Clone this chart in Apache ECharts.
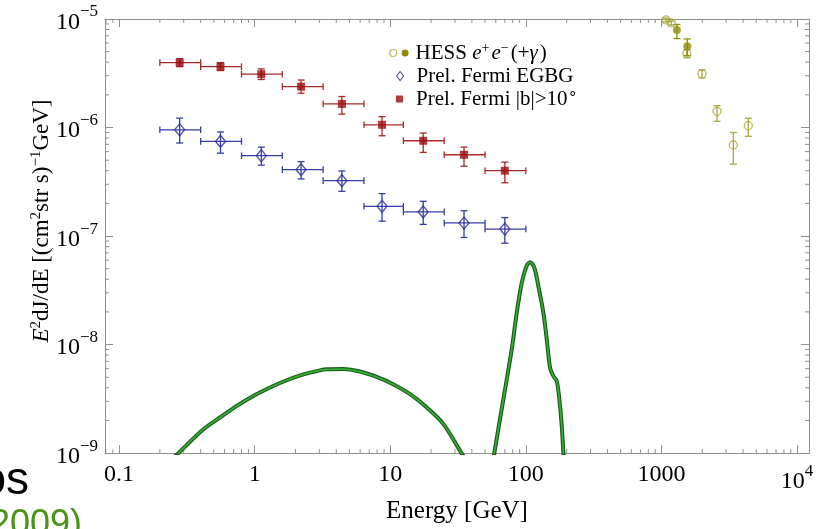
<!DOCTYPE html>
<html>
<head>
<meta charset="utf-8">
<script src="https://cdn.jsdelivr.net/npm/echarts@6/dist/echarts.min.js"></script>
<style>
  html, body { margin: 0; padding: 0; background: #fff; }
  #chart { width: 825px; height: 529px; }
</style>
</head>
<body>
<div id="chart"></div>
<script>
// ---- Fermi-LAT binned spectra (energy in GeV, E^2 dJ/dE) ----
const fermiE      = [0.28, 0.56, 1.12, 2.2, 4.4, 8.7, 17.5, 35, 70];
const fermiBinLo  = [0.2, 0.4, 0.8, 1.6, 3.2, 6.4, 12.5, 25, 50];
const fermiBinHi  = [0.4, 0.8, 1.6, 3.2, 6.4, 12.5, 25, 50, 100];

// |b| > 10 deg
const fermiHiLatF    = [3.96e-6, 3.64e-6, 3.10e-6, 2.38e-6, 1.65e-6, 1.06e-6, 7.55e-7, 5.61e-7, 4.00e-7];
const fermiHiLatLow  = [3.64e-6, 3.35e-6, 2.77e-6, 2.07e-6, 1.33e-6, 8.4e-7, 5.9e-7, 4.4e-7, 3.1e-7];
const fermiHiLatHigh = [4.31e-6, 3.96e-6, 3.47e-6, 2.74e-6, 1.93e-6, 1.26e-6, 8.9e-7, 6.6e-7, 4.8e-7];

// extragalactic background
const egbgF    = [9.53e-7, 7.45e-7, 5.50e-7, 4.09e-7, 3.24e-7, 1.88e-7, 1.67e-7, 1.32e-7, 1.16e-7];
const egbgLow  = [7.2e-7, 5.8e-7, 4.5e-7, 3.36e-7, 2.58e-7, 1.37e-7, 1.28e-7, 9.7e-8, 8.6e-8];
const egbgHigh = [1.22e-6, 9.1e-7, 6.6e-7, 4.85e-7, 3.98e-7, 2.46e-7, 2.09e-7, 1.71e-7, 1.48e-7];

// ---- HESS electron (+gamma) spectrum ----
const hessOpenE    = [1080, 1180, 1540, 1990, 2570, 3390, 4370];
const hessOpenF    = [9.8e-6, 9.2e-6, 4.8e-6, 3.12e-6, 1.41e-6, 6.9e-7, 1.04e-6];
const hessOpenLow  = [9.4e-6, 8.8e-6, 4.4e-6, 2.87e-6, 1.14e-6, 4.6e-7, 8.3e-7];
const hessOpenHigh = [1.02e-5, 9.6e-6, 5.2e-6, 3.4e-6, 1.59e-6, 9.0e-7, 1.22e-6];

const hessFullE    = [1300, 1550];
const hessFullF    = [7.9e-6, 5.6e-6];
const hessFullLow  = [6.6e-6, 4.6e-6];
const hessFullHigh = [8.9e-6, 6.55e-6];

// ---- model curve (two components) ----
const humpE = [0.24, 0.274, 0.419, 0.556, 0.738, 0.978, 1.30, 1.72, 2.29, 3.03, 3.40, 4.51, 5.98, 7.94, 10.5, 14.0, 18.6, 24.7, 33.7, 36];
const humpF = [8.5e-10, 1.0e-9, 1.66e-9, 2.13e-9, 2.72e-9, 3.36e-9, 4.02e-9, 4.69e-9, 5.32e-9, 5.79e-9, 5.92e-9, 5.95e-9, 5.64e-9, 5.03e-9, 4.31e-9, 3.49e-9, 2.63e-9, 1.85e-9, 9.9e-10, 8.7e-10];
const peakE = [56, 58.6, 68.3, 78.7, 85.7, 93.3, 101.6, 107.5, 115.6, 123.7, 134.6, 142.6, 150.8, 159.5, 169.0, 176.6, 184.0, 189.1, 192];
const peakF = [7e-10, 1.01e-9, 3.14e-9, 9.04e-9, 1.97e-8, 3.71e-8, 5.35e-8, 5.74e-8, 5.10e-8, 3.45e-8, 1.97e-8, 1.12e-8, 6.14e-9, 5.14e-9, 4.62e-9, 3.14e-9, 1.78e-9, 1.01e-9, 7.5e-10];

// ---- axis ranges and tick labels ----
const xMin = 0.0788, xMax = 12250;
const yMin = 1e-9,   yMax = 1e-5;
const xTickLabels = { '-1': '0.1', '0': '1', '1': '10', '2': '100', '3': '1000', '4': '{b|10}{s|4}' };
const yTickLabels = { '-9': '{b|10}{s|−9}', '-8': '{b|10}{s|−8}', '-7': '{b|10}{s|−7}', '-6': '{b|10}{s|−6}', '-5': '{b|10}{s|−5}' };

const SERIF = '"Liberation Serif", "Times New Roman", serif';
const FRAME = '#8e8e8e';
const RED = '#9c0b0b', RED_BAR = '#a82a2a';
const BLUE = '#2c3294', BLUE_BAR = '#353da3';
const HESS_OPEN = '#aaa836', HESS_FULL = '#8e8c08';

function zipPoints(e, f, lo, hi, binLo, binHi) {
  return e.map((x, i) => [x, f[i], binLo ? binLo[i] : x, binHi ? binHi[i] : x, lo[i], hi[i]]);
}

function errorBars(color, capX, capY) {
  return function (params, api) {
    const x = api.value(0), y = api.value(1);
    const c = api.coord([x, y]);
    const kids = [];
    const seg = (x1, y1, x2, y2) => kids.push({
      type: 'line', shape: { x1, y1, x2, y2 },
      style: { stroke: color, lineWidth: 1.3 }
    });
    const xl = api.value(2), xh = api.value(3);
    if (xl !== xh) {
      const l = api.coord([xl, y]), r = api.coord([xh, y]);
      seg(l[0], c[1], r[0], c[1]);
      seg(l[0], c[1] - capY, l[0], c[1] + capY);
      seg(r[0], c[1] - capY, r[0], c[1] + capY);
    }
    const t = api.coord([x, api.value(5)]), b = api.coord([x, api.value(4)]);
    seg(c[0], t[1], c[0], b[1]);
    seg(c[0] - capX, t[1], c[0] + capX, t[1]);
    seg(c[0] - capX, b[1], c[0] + capX, b[1]);
    return { type: 'group', children: kids };
  };
}

// minor ticks at 2..9 x 10^k on all four sides of the frame
function minorTicks(params, api) {
  const kids = [];
  const seg = (x1, y1, x2, y2) => kids.push({
    type: 'line', shape: { x1, y1, x2, y2 }, style: { stroke: FRAME, lineWidth: 1 }
  });
  const len = 4;
  for (let k = -2; k <= 4; k++) {
    for (let m = 2; m <= 9; m++) {
      const v = m * Math.pow(10, k);
      if (v <= xMin || v >= xMax) continue;
      const b = api.coord([v, yMin]), t = api.coord([v, yMax]);
      seg(b[0], b[1], b[0], b[1] - len);
      seg(t[0], t[1], t[0], t[1] + len);
    }
  }
  for (let k = -9; k <= -6; k++) {
    for (let m = 2; m <= 9; m++) {
      const v = m * Math.pow(10, k);
      const l = api.coord([xMin, v]), r = api.coord([xMax, v]);
      seg(l[0], l[1], l[0] + len, l[1]);
      seg(r[0], r[1], r[0] - len, r[1]);
    }
  }
  return { type: 'group', children: kids };
}

function exponentOf(v) {
  const e = Math.log10(v);
  return Math.abs(e - Math.round(e)) < 1e-6 ? String(Math.round(e)) : null;
}

const baseAxis = {
  type: 'log', logBase: 10,
  axisLine: { show: true, onZero: false, lineStyle: { color: FRAME, width: 1 } },
  axisTick: { show: true, inside: true, length: 8, lineStyle: { color: FRAME, width: 1 } },
  splitLine: { show: false },
  minorTick: { show: false },
  minorSplitLine: { show: false }
};

const labelRich = {
  b: { fontFamily: SERIF, fontSize: 24, lineHeight: 31, verticalAlign: 'bottom', color: '#000' },
  s: { fontFamily: SERIF, fontSize: 17, lineHeight: 17, verticalAlign: 'top', color: '#000' }
};

const legendRich = {
  dot: { width: 7, height: 7, backgroundColor: HESS_FULL, borderRadius: 3.5, verticalAlign: 'middle' },
  gap: { width: 7 },
  gap2: { width: 8 },
  i: { fontFamily: SERIF, fontSize: 21, fontStyle: 'italic', lineHeight: 24, color: '#000' },
  ip: { fontFamily: SERIF, fontSize: 21, fontStyle: 'italic', lineHeight: 24, color: '#000', padding: [0, 2, 0, 0] },
  sp: { fontFamily: SERIF, fontSize: 14, lineHeight: 14, verticalAlign: 'top', color: '#000', padding: [0, 2, 0, 0] },
  deg: { fontFamily: SERIF, fontSize: 15, lineHeight: 15, verticalAlign: 'top', color: '#000', padding: [0, 0, 0, 1] }
};
const legendText = {
  fontFamily: SERIF, fontSize: 21, lineHeight: 24, color: '#000', rich: legendRich
};
const legendNames = {
  'HESS': '{dot|}{gap|}HESS {i|e}{sp|+}{i|e}{sp|−}(+{ip|γ})',
  'Prel. Fermi EGBG': '{gap2|}Prel. Fermi EGBG',
  'Prel. Fermi |b|>10°': '{gap2|}Prel. Fermi |b|>10{deg|∘}'
};
function legendOf(name, icon, w, h, style, left, top) {
  return {
    data: [{ name, icon, itemStyle: style }],
    left, top, orient: 'vertical', selectedMode: false,
    itemWidth: w, itemHeight: h, padding: 0,
    textStyle: legendText,
    formatter: n => legendNames[n]
  };
}

const chart = echarts.init(document.getElementById('chart'), null, { renderer: 'canvas' });

const curveSeries = [];
[[humpE, humpF], [peakE, peakF]].forEach(([e, f], idx) => {
  const data = e.map((x, i) => [x, f[i]]);
  curveSeries.push({
    type: 'line', name: 'modelOuter' + idx, data, showSymbol: false, smooth: 0.3,
    lineStyle: { color: '#1c5a1c', width: 4 }, silent: true, z: 3, clip: true
  });
  curveSeries.push({
    type: 'line', name: 'modelInner' + idx, data, showSymbol: false, smooth: 0.3,
    lineStyle: { color: '#33b033', width: 1.7 }, silent: true, z: 4, clip: true
  });
});

chart.setOption({
  animation: false,
  backgroundColor: '#ffffff',
  grid: { left: 105, top: 19, right: 16, bottom: 75, containLabel: false },
  xAxis: [
    Object.assign({}, baseAxis, {
      position: 'bottom', min: xMin, max: xMax,
      axisLabel: {
        margin: 10, fontFamily: SERIF, fontSize: 24, color: '#000',
        formatter: v => { const e = exponentOf(v); return e === null ? '' : (xTickLabels[e] || ''); },
        rich: labelRich
      },
      name: 'Energy [GeV]', nameLocation: 'middle', nameGap: 43,
      nameTextStyle: { fontFamily: SERIF, fontSize: 25, color: '#000' }
    }),
    Object.assign({}, baseAxis, {
      position: 'top', min: xMin, max: xMax, axisLabel: { show: false }
    })
  ],
  yAxis: [
    Object.assign({}, baseAxis, {
      position: 'left', min: yMin, max: yMax,
      axisLabel: {
        margin: 7, fontFamily: SERIF, fontSize: 24, color: '#000',
        formatter: v => { const e = exponentOf(v); return e === null ? '' : (yTickLabels[e] || ''); },
        rich: labelRich
      }
    }),
    Object.assign({}, baseAxis, {
      position: 'right', min: yMin, max: yMax, axisLabel: { show: false }
    })
  ],
  legend: [
    legendOf('HESS', 'circle', 7, 7,
      { color: 'rgba(0,0,0,0)', borderColor: HESS_OPEN, borderWidth: 1.2 }, 389, 41),
    legendOf('Prel. Fermi EGBG', 'diamond', 7, 9,
      { color: 'rgba(0,0,0,0)', borderColor: BLUE, borderWidth: 1.2 }, 396, 64),
    legendOf('Prel. Fermi |b|>10°', 'rect', 7, 7,
      { color: RED, borderWidth: 0 }, 396, 87)
  ],
  graphic: [
    {
      type: 'text', x: 42, y: 221, rotation: Math.PI / 2,
      style: {
        text: '{i|E}{s|2}dJ/dE [(cm{s|2}str s){s|−1}GeV]',
        align: 'center', verticalAlign: 'middle',
        fontFamily: SERIF, fontSize: 23, lineHeight: 26, fill: '#000',
        rich: {
          i: { fontFamily: SERIF, fontSize: 23, fontStyle: 'italic', lineHeight: 26, fill: '#000' },
          s: { fontFamily: SERIF, fontSize: 15, lineHeight: 15, verticalAlign: 'top', fill: '#000' }
        }
      }
    },
    {
      type: 'text', x: 29, y: 481,
      style: { text: 'os', align: 'right', verticalAlign: 'middle',
               font: '46px "Liberation Sans", Arial, sans-serif', fill: '#000' }
    },
    {
      type: 'text', x: 82, y: 525,
      style: { text: '(2009)', align: 'right', verticalAlign: 'middle',
               font: '36px "Liberation Sans", Arial, sans-serif', fill: '#4a9418' }
    }
  ],
  series: [
    {
      type: 'custom', name: 'ticks', renderItem: minorTicks, data: [[1, 1e-7]],
      silent: true, z: 1, clip: false
    },
    ...curveSeries,
    {
      type: 'custom', name: 'egbgErr', renderItem: errorBars(BLUE_BAR, 3.5, 3.3),
      data: zipPoints(fermiE, egbgF, egbgLow, egbgHigh, fermiBinLo, fermiBinHi),
      encode: { x: [0, 2, 3], y: [1, 4, 5] }, silent: true, z: 5
    },
    {
      type: 'custom', name: 'hiLatErr', renderItem: errorBars(RED_BAR, 3.5, 3.3),
      data: zipPoints(fermiE, fermiHiLatF, fermiHiLatLow, fermiHiLatHigh, fermiBinLo, fermiBinHi),
      encode: { x: [0, 2, 3], y: [1, 4, 5] }, silent: true, z: 5
    },
    {
      type: 'custom', name: 'hessOpenErr', renderItem: errorBars(HESS_OPEN, 3.5, 0),
      data: zipPoints(hessOpenE, hessOpenF, hessOpenLow, hessOpenHigh),
      encode: { x: 0, y: [1, 4, 5] }, silent: true, z: 5
    },
    {
      type: 'custom', name: 'hessFullErr', renderItem: errorBars(HESS_FULL, 3.5, 0),
      data: zipPoints(hessFullE, hessFullF, hessFullLow, hessFullHigh),
      encode: { x: 0, y: [1, 4, 5] }, silent: true, z: 5
    },
    {
      type: 'scatter', name: 'Prel. Fermi EGBG', symbol: 'diamond', symbolSize: [10, 12],
      data: fermiE.map((x, i) => [x, egbgF[i]]),
      itemStyle: { color: 'rgba(0,0,0,0)', borderColor: BLUE, borderWidth: 1.4 }, z: 6
    },
    {
      type: 'scatter', name: 'Prel. Fermi |b|>10°', symbol: 'rect', symbolSize: 8,
      data: fermiE.map((x, i) => [x, fermiHiLatF[i]]),
      itemStyle: { color: RED }, z: 6
    },
    {
      type: 'scatter', name: 'HESS', symbol: 'circle', symbolSize: 8,
      data: hessOpenE.map((x, i) => [x, hessOpenF[i]]),
      itemStyle: { color: 'rgba(0,0,0,0)', borderColor: HESS_OPEN, borderWidth: 1.3 }, z: 6, clip: false
    },
    {
      type: 'scatter', name: 'HESS filled', symbol: 'circle', symbolSize: 8,
      data: hessFullE.map((x, i) => [x, hessFullF[i]]),
      itemStyle: { color: HESS_FULL }, z: 6
    }
  ]
});
</script>
</body>
</html>
